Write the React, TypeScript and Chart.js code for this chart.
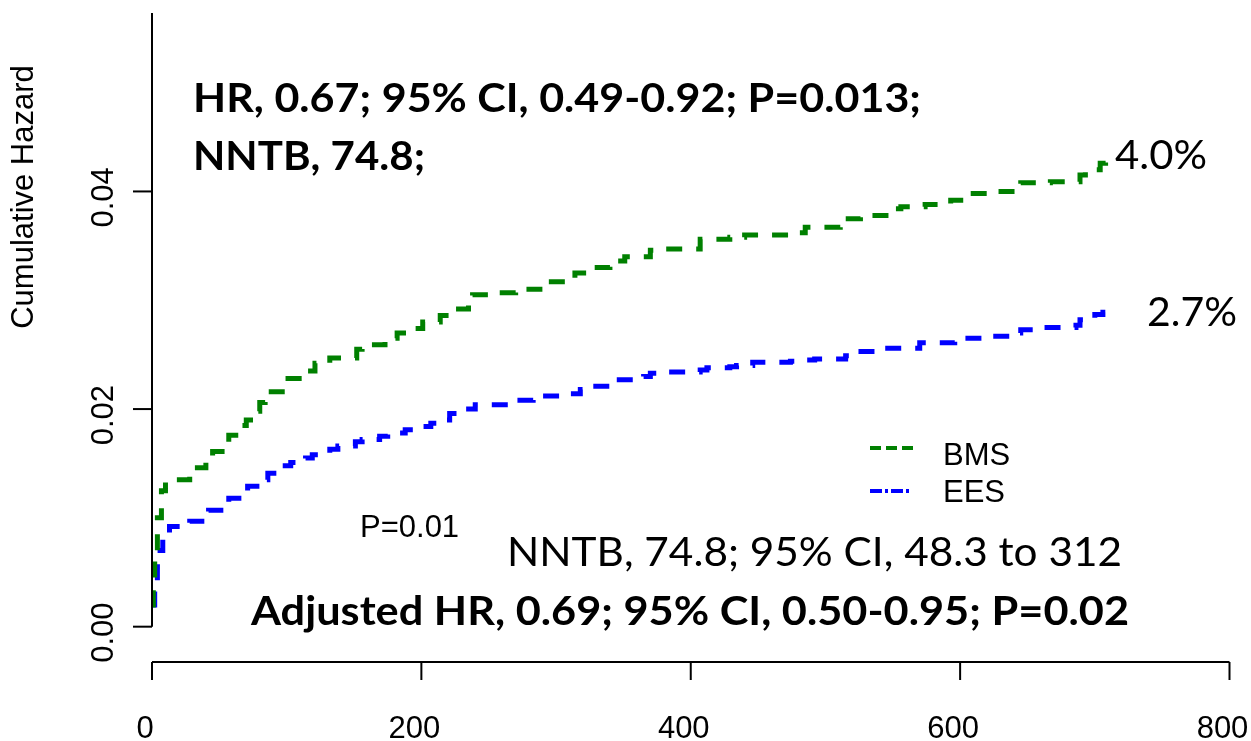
import React, { useEffect, useRef } from "react";
import { Chart, registerables } from "chart.js";

Chart.register(...registerables);

// ---- data ----
const xTicks = [0, 200, 400, 600, 800];
const xTickLabels = ["0", "200", "400", "600", "800"];
const yTicks = [0, 0.02, 0.04];
const yTickLabels = ["0.00", "0.02", "0.04"];
const yAxisTitle = "Cumulative Hazard";
const seriesNames = ["BMS", "EES"];

const bmsTimes = [0, 1, 2, 4, 7, 10, 28, 40, 45, 54, 57, 66, 70, 77, 80, 84, 99, 101, 114, 121, 132, 152, 156, 173, 182, 192, 201, 214, 222, 235, 238, 251, 270, 288, 314, 325, 340, 351, 370, 381, 407, 429, 440, 478, 485, 511, 515, 526, 552, 556, 574, 593, 604, 626, 645, 667, 689, 693, 704, 708, 710];
const bmsValues = [0.002, 0.004, 0.007, 0.01, 0.0125, 0.0135, 0.0146, 0.0155, 0.0161, 0.017, 0.0176, 0.0185, 0.019, 0.0198, 0.0206, 0.0216, 0.0222, 0.0228, 0.0235, 0.0242, 0.0247, 0.0255, 0.0259, 0.0265, 0.027, 0.0274, 0.028, 0.0286, 0.0292, 0.03, 0.0305, 0.0307, 0.031, 0.0317, 0.0325, 0.033, 0.0336, 0.034, 0.0346, 0.0347, 0.0356, 0.0358, 0.036, 0.0362, 0.0367, 0.0372, 0.0375, 0.0378, 0.0384, 0.0386, 0.0388, 0.0392, 0.0398, 0.04, 0.0408, 0.0409, 0.0415, 0.042, 0.0426, 0.0432, 0.0432];

const eesTimes = [0, 2, 4, 6, 8, 13, 28, 37, 42, 54, 57, 67, 71, 82, 86, 97, 103, 114, 119, 132, 138, 151, 156, 169, 175, 188, 195, 207, 213, 221, 229, 240, 265, 271, 283, 290, 303, 318, 324, 342, 365, 370, 383, 407, 412, 429, 434, 446, 474, 479, 492, 515, 518, 541, 570, 596, 619, 639, 645, 660, 686, 689, 700, 706, 709];
const eesValues = [0.002, 0.004, 0.0055, 0.007, 0.0085, 0.0092, 0.0097, 0.0102, 0.0107, 0.0113, 0.0118, 0.0124, 0.0129, 0.0135, 0.0141, 0.0148, 0.0151, 0.0155, 0.0158, 0.0163, 0.0166, 0.017, 0.0172, 0.0175, 0.0178, 0.0181, 0.0184, 0.0187, 0.019, 0.0196, 0.02, 0.0204, 0.0206, 0.0208, 0.021, 0.0212, 0.0214, 0.0218, 0.0221, 0.0227, 0.023, 0.0233, 0.0234, 0.0236, 0.0238, 0.0239, 0.024, 0.0243, 0.0244, 0.0245, 0.0246, 0.0249, 0.0253, 0.0256, 0.0261, 0.0265, 0.0267, 0.027, 0.0273, 0.0275, 0.0277, 0.0282, 0.0287, 0.0289, 0.0289];

const hrText = "HR, 0.67; 95% CI, 0.49-0.92; P=0.013;";
const nntbText = "NNTB, 74.8;";
const pText = "P=0.01";
const nntbCiText = "NNTB, 74.8; 95% CI, 48.3 to 312";
const adjText = "Adjusted HR, 0.69; 95% CI, 0.50-0.95; P=0.02";
const endLabels = ["4.0%", "2.7%"];

const GREEN = "#008000";
const BLUE = "#0000ff";
const ARIAL = "'Liberation Sans', Arial, sans-serif";
const CAL = "Lato, 'Open Sans', sans-serif";

function drawFitted(ctx: CanvasRenderingContext2D, text: string, x: number, y: number, width: number, font: string) {
  ctx.save();
  ctx.font = font;
  const w = ctx.measureText(text).width;
  ctx.translate(x, y);
  ctx.scale(width / w, 1);
  ctx.textAlign = "left";
  ctx.textBaseline = "alphabetic";
  ctx.fillStyle = "#000";
  ctx.fillText(text, 0, 0);
  ctx.restore();
}

const decorPlugin = {
  id: "decor",
  afterDraw(chart: any) {
    const ctx: CanvasRenderingContext2D = chart.ctx;
    const xs = chart.scales.x;
    const ys = chart.scales.y;
    const area = chart.chartArea;
    ctx.save();
    ctx.strokeStyle = "#000";
    ctx.fillStyle = "#000";
    ctx.lineWidth = 2;
    // y axis
    const yx = xs.getPixelForValue(0);
    ctx.beginPath();
    ctx.moveTo(yx, area.top);
    ctx.lineTo(yx, ys.getPixelForValue(yTicks[0]));
    ctx.stroke();
    yTicks.forEach((v, i) => {
      const py = ys.getPixelForValue(v);
      ctx.beginPath();
      ctx.moveTo(yx, py);
      ctx.lineTo(yx - 19, py);
      ctx.stroke();
      ctx.save();
      ctx.translate(113, py + 6);
      ctx.rotate(-Math.PI / 2);
      ctx.font = `31px ${ARIAL}`;
      ctx.textAlign = "center";
      ctx.textBaseline = "alphabetic";
      ctx.fillText(yTickLabels[i], 0, 0);
      ctx.restore();
    });
    // y title
    ctx.save();
    ctx.translate(33, 197);
    ctx.rotate(-Math.PI / 2);
    ctx.font = `31px ${ARIAL}`;
    ctx.textAlign = "center";
    ctx.textBaseline = "alphabetic";
    ctx.fillText(yAxisTitle, 0, 0);
    ctx.restore();
    // x axis
    const axY = area.bottom;
    ctx.beginPath();
    ctx.moveTo(xs.getPixelForValue(xTicks[0]), axY);
    ctx.lineTo(xs.getPixelForValue(xTicks[xTicks.length - 1]), axY);
    ctx.stroke();
    xTicks.forEach((v, i) => {
      const px = xs.getPixelForValue(v);
      ctx.beginPath();
      ctx.moveTo(px, axY);
      ctx.lineTo(px, axY + 18);
      ctx.stroke();
      ctx.font = `31px ${ARIAL}`;
      ctx.textAlign = "center";
      ctx.textBaseline = "alphabetic";
      ctx.fillText(xTickLabels[i], px - 7, 738);
    });
    // legend
    ctx.lineWidth = 4;
    ctx.strokeStyle = GREEN;
    ctx.setLineDash([11, 5]);
    ctx.beginPath();
    ctx.moveTo(870, 448);
    ctx.lineTo(914, 448);
    ctx.stroke();
    ctx.strokeStyle = BLUE;
    ctx.setLineDash([12, 3, 3, 3]);
    ctx.beginPath();
    ctx.moveTo(870, 491);
    ctx.lineTo(912, 491);
    ctx.stroke();
    ctx.setLineDash([]);
    ctx.font = `31px ${ARIAL}`;
    ctx.textAlign = "left";
    ctx.textBaseline = "alphabetic";
    ctx.fillStyle = "#000";
    ctx.fillText(seriesNames[0], 943, 465);
    ctx.fillText(seriesNames[1], 943, 502);
    ctx.fillText(pText, 360, 537);
    // annotations
    drawFitted(ctx, hrText, 193, 112, 728, `bold 40px ${CAL}`);
    drawFitted(ctx, nntbText, 193, 170, 232, `bold 40px ${CAL}`);
    drawFitted(ctx, adjText, 251, 625, 878, `bold 40px ${CAL}`);
    drawFitted(ctx, nntbCiText, 507, 566, 615, `40px ${CAL}`);
    drawFitted(ctx, endLabels[0], 1115, 169, 92, `40px ${CAL}`);
    drawFitted(ctx, endLabels[1], 1147, 326, 90, `40px ${CAL}`);
    ctx.restore();
  },
};

export default function App() {
  const ref = useRef<HTMLCanvasElement | null>(null);
  useEffect(() => {
    if (!ref.current) return;
    const chart = new Chart(ref.current, {
      type: "line",
      data: {
        datasets: [
          {
            label: seriesNames[0],
            data: bmsTimes.map((t, i) => ({ x: t, y: bmsValues[i] })),
            borderColor: GREEN,
            borderWidth: 5,
            borderDash: [16, 14],
            stepped: "before",
            pointRadius: 0,
            fill: false,
          },
          {
            label: seriesNames[1],
            data: eesTimes.map((t, i) => ({ x: t, y: eesValues[i] })),
            borderColor: BLUE,
            borderWidth: 5,
            borderDash: [16, 14],
            stepped: "before",
            pointRadius: 0,
            fill: false,
          },
        ],
      },
      options: {
        animation: false,
        responsive: false,
        devicePixelRatio: 1,
        layout: { padding: { left: 152, right: 21.5, top: 13, bottom: 79 } },
        plugins: { legend: { display: false }, tooltip: { enabled: false } },
        scales: {
          x: { type: "linear", min: 0, max: 800, display: false },
          y: { type: "linear", min: -0.003246, max: 0.0564, display: false },
        },
      },
      plugins: [decorPlugin],
    } as any);
    return () => chart.destroy();
  }, []);
  return (
    <div style={{ position: "fixed", left: 0, top: 0, width: 1251, height: 741, background: "#fff" }}>
      <canvas ref={ref} width={1251} height={741} style={{ display: "block" }} />
    </div>
  );
}
